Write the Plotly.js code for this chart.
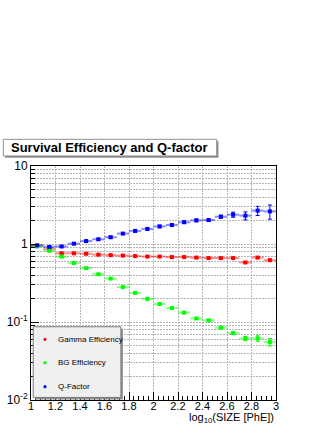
<!DOCTYPE html>
<html>
<head>
<meta charset="utf-8">
<script src="https://cdn.plot.ly/plotly-3.0.1.min.js"></script>
<style>
  body { margin: 0; background: #fff; }
  #plot { width: 332px; height: 430px; }
</style>
</head>
<body>
<div id="plot"></div>
<script>
// bin centres in log10(SIZE), bin width 0.1
const logSize = [1.05, 1.15, 1.25, 1.35, 1.45, 1.55, 1.65, 1.75, 1.85, 1.95,
                 2.05, 2.15, 2.25, 2.35, 2.45, 2.55, 2.65, 2.75, 2.85, 2.95];
const halfBin = [0.05, 0.05, 0.05, 0.05, 0.05, 0.05, 0.05, 0.05, 0.05, 0.05,
                 0.05, 0.05, 0.05, 0.05, 0.05, 0.05, 0.05, 0.05, 0.05, 0.05];

const gammaEff = [0.95, 0.86, 0.76, 0.76, 0.75, 0.73, 0.72, 0.71, 0.70, 0.69,
                  0.69, 0.68, 0.68, 0.67, 0.66, 0.66, 0.66, 0.58, 0.67, 0.62];
const gammaErr = [0.01, 0.01, 0.01, 0.01, 0.01, 0.01, 0.01, 0.01, 0.01, 0.01,
                  0.01, 0.01, 0.01, 0.01, 0.01, 0.01, 0.01, 0.01, 0.02, 0.02];

const bgEff = [0.93, 0.82, 0.69, 0.57, 0.49, 0.41, 0.36, 0.28, 0.236, 0.198,
               0.17, 0.151, 0.132, 0.111, 0.105, 0.0845, 0.072, 0.0616, 0.0616, 0.0553];
const bgErr = [0.005, 0.005, 0.005, 0.004, 0.004, 0.004, 0.004, 0.003, 0.003, 0.003,
               0.003, 0.003, 0.003, 0.003, 0.003, 0.003, 0.003, 0.004, 0.005, 0.006];

const qFactor = [0.96, 0.92, 0.93, 1.01, 1.09, 1.15, 1.22, 1.36, 1.47, 1.56,
                 1.68, 1.75, 1.90, 2.01, 2.03, 2.24, 2.38, 2.31, 2.68, 2.62];
const qErr = [0.02, 0.02, 0.02, 0.03, 0.03, 0.03, 0.04, 0.04, 0.05, 0.05,
              0.06, 0.06, 0.07, 0.08, 0.09, 0.10, 0.18, 0.27, 0.36, 0.54];

const seriesNames = ['Gamma Efficiency', 'BG Efficiency', 'Q-Factor'];
const seriesColors = ['#ff0000', '#00ff00', '#0000ff'];
const seriesFaint = ['rgba(255,0,0,0.45)', 'rgba(0,255,0,0.45)', 'rgba(0,0,255,0.45)'];

const yTickVals = [0.01, 0.1, 1, 10];
const yTickText = ['10<sup>-2</sup>', '10<sup>-1</sup>', '1', '10'];

// minor decades 2..9
const yMinor = [];
[0.01, 0.1, 1].forEach(d => { for (let k = 2; k <= 9; k++) yMinor.push(d * k); });

function histTrace(y, err, i) {
    return {
        x: logSize, y: y, name: seriesNames[i],
        type: 'scatter', mode: 'markers',
        showlegend: false,
        marker: {symbol: 'square', size: 4, color: seriesColors[i]},
        error_x: {type: 'data', array: halfBin, color: seriesFaint[i], thickness: 2, width: 0},
        error_y: {type: 'data', array: err, color: seriesColors[i], thickness: 1, width: 2}
    };
}

const traces = [
    histTrace(gammaEff, gammaErr, 0),
    histTrace(bgEff, bgErr, 1),
    histTrace(qFactor, qErr, 2)
];

const gridStyle = {gridcolor: '#b4b4b4', griddash: '2px,1px', gridwidth: 1};

// legend drawn by hand (box, dots, labels) in paper coordinates
const legendRowY = [0.2594, 0.1594, 0.0568];
const legendShapes = [
    {type: 'rect', xref: 'paper', yref: 'paper', x0: 0.017, x1: 0.375, y0: 0.002, y1: 0.305,
     fillcolor: '#8c8c8c', line: {width: 0}, layer: 'above'},
    {type: 'rect', xref: 'paper', yref: 'paper', x0: 0.009, x1: 0.367, y0: 0.011, y1: 0.313,
     fillcolor: '#f0f0f0', line: {color: '#7a7a7a', width: 1}, layer: 'above'}
];
const legendNotes = [];
seriesNames.forEach((name, i) => {
    legendShapes.push({type: 'circle', xref: 'paper', yref: 'paper',
        x0: 0.0571 - 0.0065, x1: 0.0571 + 0.0065,
        y0: legendRowY[i] - 0.0068, y1: legendRowY[i] + 0.0068,
        fillcolor: seriesColors[i], line: {width: 0}, layer: 'above'});
    legendNotes.push({text: name, xref: 'paper', yref: 'paper',
        x: 0.102, y: legendRowY[i], xanchor: 'left', yanchor: 'middle', showarrow: false,
        font: {size: 8, color: '#000'}});
});

const layout = {
    width: 332, height: 430,
    margin: {l: 31, r: 56, t: 166, b: 30},
    paper_bgcolor: '#fff', plot_bgcolor: '#fff',
    font: {family: 'Liberation Sans, Arial, sans-serif', color: '#000', size: 11},
    showlegend: false,
    xaxis: Object.assign({
        range: [1, 3], tick0: 1, dtick: 0.2,
        ticks: 'inside', ticklen: 8, tickcolor: '#000',
        showline: true, linecolor: '#000', linewidth: 1, mirror: true,
        zeroline: false, showgrid: true,
        tickfont: {size: 11}, ticklabelstandoff: -4,
        minor: {dtick: 0.04, ticks: 'inside', ticklen: 4, tickcolor: '#000', showgrid: false}
    }, gridStyle),
    yaxis: Object.assign({
        type: 'log', range: [-2, 1],
        tickmode: 'array', tickvals: yTickVals, ticktext: yTickText,
        ticks: 'inside', ticklen: 8, tickcolor: '#000',
        showline: true, linecolor: '#000', linewidth: 1, mirror: true,
        zeroline: false, showgrid: true,
        tickfont: {size: 12},
        minor: Object.assign({tickvals: yMinor, ticks: 'inside', ticklen: 4, tickcolor: '#000', showgrid: true}, gridStyle)
    }, gridStyle),
    shapes: [
        // title box shadow + box
        {type: 'rect', xref: 'paper', yref: 'paper', x0: -0.106, x1: 0.765, y0: 1.035, y1: 1.106,
         fillcolor: '#8c8c8c', line: {width: 0}, layer: 'above'},
        {type: 'rect', xref: 'paper', yref: 'paper', x0: -0.113, x1: 0.758, y0: 1.043, y1: 1.114,
         fillcolor: '#fff', line: {color: '#909090', width: 1}, layer: 'above'}
    ].concat(legendShapes),
    annotations: [
        {text: '<b>Survival Efficiency and Q-factor</b>', xref: 'paper', yref: 'paper',
         x: 0.3224, y: 1.078, xanchor: 'center', yanchor: 'middle', showarrow: false,
         font: {size: 13, color: '#000'}},
        {text: 'log<sub>10</sub>(SIZE [PhE])', xref: 'paper', yref: 'paper',
         x: 1, y: -0.078, xanchor: 'right', yanchor: 'middle', showarrow: false,
         font: {size: 11, color: '#000'}}
    ].concat(legendNotes)
};

Plotly.newPlot('plot', traces, layout, {displayModeBar: false, staticPlot: true});
</script>
</body>
</html>
